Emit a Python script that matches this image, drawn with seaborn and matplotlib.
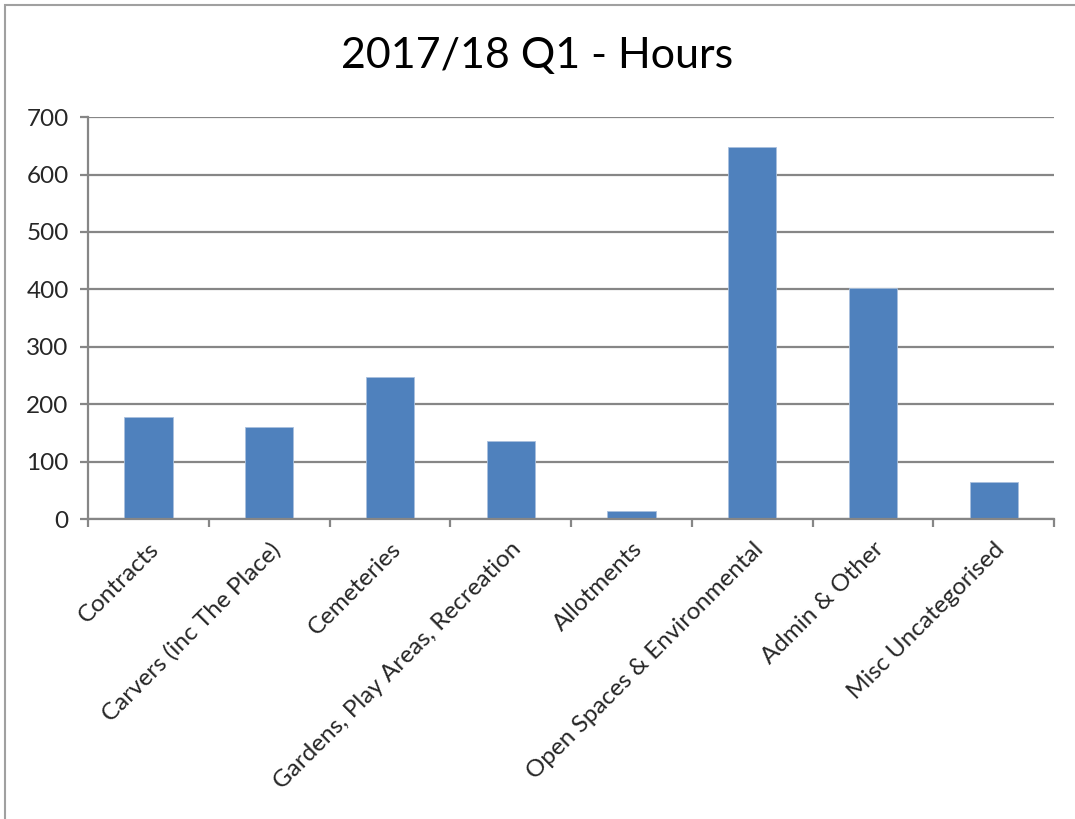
import matplotlib
matplotlib.use("Agg")
import matplotlib.pyplot as plt
import numpy as np
import seaborn as sns
from matplotlib.patches import Rectangle

# Data
categories = [
    "Contracts",
    "Carvers (inc The Place)",
    "Cemeteries",
    "Gardens, Play Areas, Recreation",
    "Allotments",
    "Open Spaces & Environmental",
    "Admin & Other",
    "Misc Uncategorised",
]
hours = [177, 160, 247, 135, 14, 648, 402, 64]
y_ticks = [0, 100, 200, 300, 400, 500, 600, 700]

sns.set_style("white")
plt.rcParams['font.family'] = ['Lato', 'DejaVu Sans']

grid_color = '#868686'
bar_color = '#4F81BD'

fig = plt.figure(figsize=(10.75, 8.19), dpi=100)
ax = fig.add_axes([0.0819, 0.3663, 0.8986, 0.4907])

sns.barplot(x=categories, y=hours, color=bar_color, width=0.4,
            edgecolor='#a9c0dd', linewidth=0.6, saturation=1, ax=ax)

ax.set_ylim(0, 700)
ax.set_xlim(-0.5, len(categories) - 0.5)
ax.set_yticks(y_ticks)
ax.set_yticklabels([str(v) for v in y_ticks], fontsize=17.5)
ax.yaxis.grid(True, color=grid_color, linewidth=1.6)
ax.set_axisbelow(True)

# category labels at centres, tick marks at category boundaries
ax.set_xticks(range(len(categories)))
ax.set_xticklabels(categories, rotation=45, ha='right', rotation_mode='anchor',
                   fontsize=17.5)
ax.set_xticks(np.arange(-0.5, len(categories)), minor=True)
ax.tick_params(axis='x', which='major', length=0, pad=14)
ax.tick_params(axis='x', which='minor', length=6, width=1.6, color=grid_color,
               direction='out', bottom=True)
ax.tick_params(axis='y', length=6, width=1.6, color=grid_color, left=True, pad=8)

for side in ['top', 'right']:
    ax.spines[side].set_visible(False)
for side in ['left', 'bottom']:
    ax.spines[side].set_color(grid_color)
    ax.spines[side].set_linewidth(1.6)

ax.set_xlabel("")
ax.set_ylabel("")

fig.text(0.5, 0.932, "2017/18 Q1 - Hours", ha='center', va='center',
         fontsize=31, color='black')

# chart frame (right and bottom edges fall outside the image)
fig.patches.append(Rectangle((0.005, -0.05), 1.1, 1.044, transform=fig.transFigure,
                             fill=False, edgecolor='#a0a0a0', linewidth=1.5))

plt.savefig("out.png", dpi=100)
plt.close()
